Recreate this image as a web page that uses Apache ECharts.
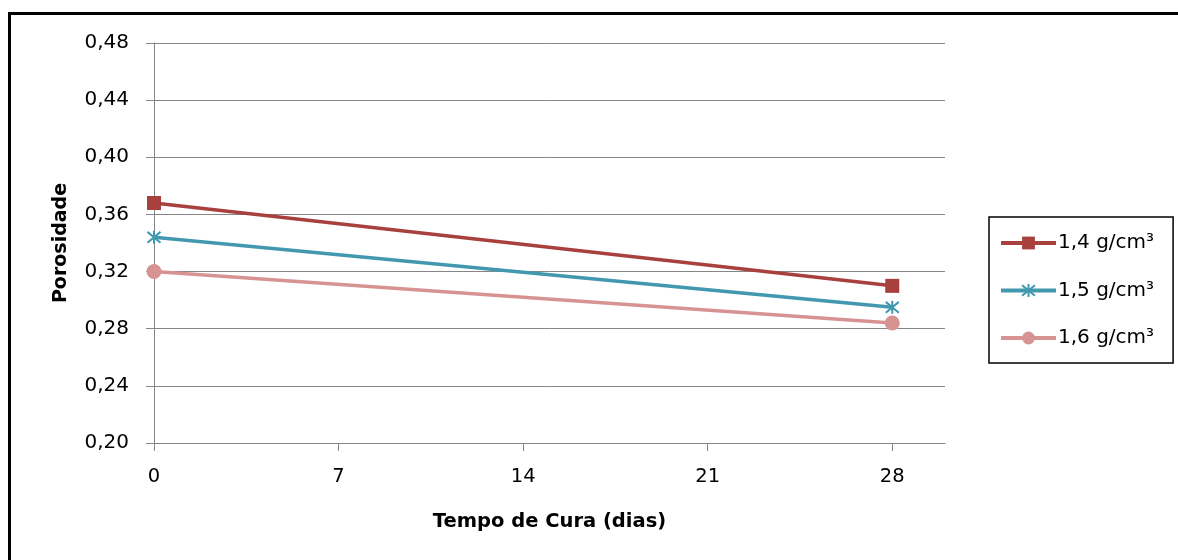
<!DOCTYPE html>
<html>
<head>
<meta charset="utf-8">
<script src="https://cdn.jsdelivr.net/npm/echarts@6/dist/echarts.min.js"></script>
<style>
html,body{margin:0;padding:0;background:#fff;}
#c{width:1178px;height:560px;}
</style>
</head>
<body>
<div id="c"></div>
<script>
const days = [0, 28];
const seriesNames = ['1,4 g/cm³', '1,5 g/cm³', '1,6 g/cm³'];
const s14 = [0.368, 0.310];
const s15 = [0.344, 0.295];
const s16 = [0.320, 0.284];
const xTicks = [0, 7, 14, 21, 28];
const colors = ['#A8403D', '#4198AF', '#D69392'];

const asterisk = 'path://M0,0L20,20M20,0L0,20M10,-2L10,22';
const FONT = 'DejaVu Sans';

function pairs(vals){ return days.map((d,i)=>[d, vals[i]]); }

const chart = echarts.init(document.getElementById('c'), null, {renderer:'canvas'});
chart.setOption({
  animation:false,
  backgroundColor:'#fff',
  graphic:[{
    type:'rect', shape:{x:9.5, y:13.5, width:1300, height:700},
    style:{fill:'none', stroke:'#000', lineWidth:3}, silent:true, z:100
  }],
  grid:{left:154, right:233, top:43, bottom:117},
  xAxis:{
    type:'value', min:0, max:30, interval:7,
    name:'Tempo de Cura (dias)', nameLocation:'middle', nameGap:69,
    nameTextStyle:{fontFamily:FONT, fontWeight:'bold', fontSize:19.5, color:'#000'},
    axisLine:{show:true, onZero:false, lineStyle:{color:'#868686', width:1}},
    axisTick:{show:true, inside:false, length:8, customValues:xTicks, lineStyle:{color:'#868686'}},
    axisLabel:{customValues:xTicks, margin:24, fontFamily:FONT, fontSize:19.5, color:'#000'},
    splitLine:{show:false}
  },
  yAxis:{
    type:'value', min:0.20, max:0.48, interval:0.04,
    name:'Porosidade', nameLocation:'middle', nameGap:83, nameRotate:90,
    nameTextStyle:{fontFamily:FONT, fontWeight:'bold', fontSize:19, color:'#000'},
    axisLine:{show:true, lineStyle:{color:'#868686', width:1}},
    axisTick:{show:true, length:8, lineStyle:{color:'#868686'}},
    axisLabel:{margin:25, fontFamily:FONT, fontSize:20, color:'#000',
      formatter:v=>v.toFixed(2).replace('.', ',')},
    splitLine:{show:true, lineStyle:{color:'#868686', width:1}}
  },
  legend:{
    orient:'vertical', left:989, top:217,
    padding:[16, 19, 15, 10], itemGap:27.5, itemWidth:55, itemHeight:16,
    borderColor:'#000', borderWidth:1.5, backgroundColor:'#fff',
    lineStyle:{width:4},
    textStyle:{fontFamily:FONT, fontSize:20, lineHeight:20, color:'#000', padding:[0,0,0,-3]},
    data:seriesNames
  },
  series:[
    {name:seriesNames[0], type:'line', data:pairs(s14), color:colors[0],
     symbol:'rect', symbolSize:14, lineStyle:{width:3.5, color:colors[0]},
     itemStyle:{color:colors[0]}},
    {name:seriesNames[1], type:'line', data:pairs(s15), color:colors[1],
     symbol:asterisk, symbolSize:13, lineStyle:{width:3.5, color:colors[1]},
     itemStyle:{color:colors[1], borderColor:colors[1], borderWidth:2}},
    {name:seriesNames[2], type:'line', data:pairs(s16), color:colors[2],
     symbol:'circle', symbolSize:15, lineStyle:{width:3.5, color:colors[2]},
     itemStyle:{color:colors[2]}}
  ]
});
</script>
</body>
</html>
